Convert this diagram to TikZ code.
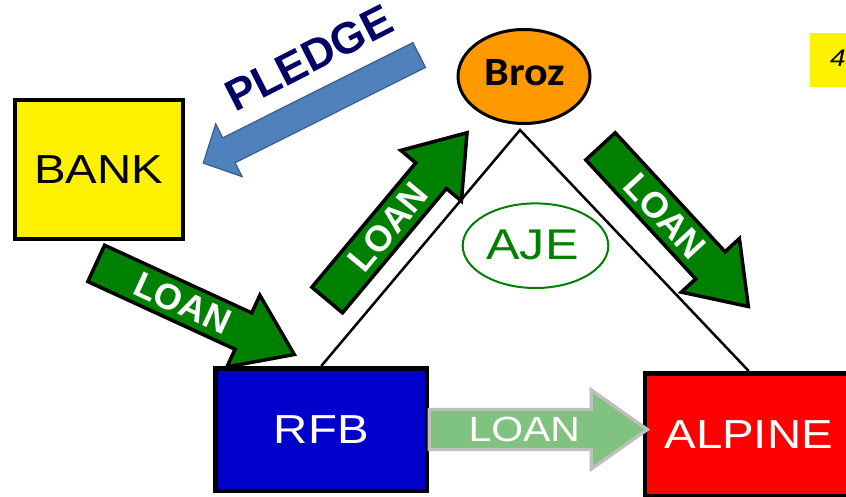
\documentclass[tikz,border=0pt]{standalone}
\usepackage{fontspec}
\setmainfont{Liberation Sans}
\newfontfamily\carlito{Carlito}
\usepackage{graphicx}
\usetikzlibrary{shapes.geometric}
\definecolor{rfbblue}{RGB}{0,0,204}
\definecolor{brozorange}{RGB}{255,153,0}
\definecolor{loangreen}{RGB}{0,128,0}
\definecolor{lightloan}{RGB}{128,194,128}
\definecolor{loangrey}{RGB}{191,191,191}
\definecolor{pledgefill}{RGB}{79,129,189}
\definecolor{pledgeedge}{RGB}{56,93,138}
\definecolor{pledgenavy}{RGB}{0,0,102}
\definecolor{ajegreen}{RGB}{0,128,0}
\newcommand\widetxt[1]{\scalebox{1.17}[1]{#1}}
% block arrow: #1 arrow style, #2 text style, #3 tail, #4 angle, #5 text node name, #6 text
\newcommand\AL{218}\newcommand\AW{20}\newcommand\AH{39.5}\newcommand\AK{56}
\newcommand\blockarrow[6]{%
  \begin{scope}[shift={(#3)},rotate=#4]
    \draw[#1] (0,\AW) -- ({\AL-\AK},\AW) -- ({\AL-\AK},\AH) -- (\AL,0)
      -- ({\AL-\AK},-\AH) -- ({\AL-\AK},-\AW) -- (0,-\AW) -- cycle;
    \node[#2,transform shape] (#5) at (95,0) {#6};
  \end{scope}}
\begin{document}
\begin{tikzpicture}[x=1pt,y=1pt,
  box/.style={draw=black, rectangle, inner sep=0pt},
  loanarrow/.style={fill=loangreen, draw=black, line width=3.5pt},
  lightarrow/.style={fill=lightloan, draw=loangrey, line width=3.3pt},
  loantext/.style={text=white, font=\bfseries\fontsize{36}{42}\selectfont, inner sep=0pt},
  lighttext/.style={text=white, font=\fontsize{35}{42}\selectfont, inner sep=0pt},
  link/.style={draw=black, line width=2.5pt}]
\useasboundingbox (0,0) rectangle (846,496);
\clip (0,0) rectangle (846,496);

% top-right yellow tag
\fill[yellow] (810,408.7) rectangle (850,462.7);
\node[anchor=base west, inner sep=0pt, font=\itshape\fontsize{24}{28}\selectfont] (four) at (830,429.3) {\widetxt{4}};

% boxes
\node[box, line width=4pt, fill=yellow, minimum width=168.3pt, minimum height=139pt,
      font=\fontsize{40.5}{48}\selectfont] (bank) at (98.85,326.5) {\widetxt{BANK}};
\node[box, line width=4.5pt, fill=rfbblue, text=white, minimum width=211.5pt, minimum height=122.5pt,
      font=\fontsize{40.5}{48}\selectfont] (rfb) at (321.3,66.5) {\widetxt{RFB}};
\node[box, line width=4.5pt, fill=red, text=white, minimum width=207.5pt, minimum height=122.9pt,
      font=\fontsize{40.5}{48}\selectfont] (alpine) at (748.7,61.3) {\widetxt{ALPINE}};

% ownership lines
\coordinate (apex) at (520,366);
\draw[link] (rfb.north) -- (apex) -- (alpine.north);

% Broz
\node[ellipse, draw=black, line width=3pt, fill=brozorange, minimum width=132pt, minimum height=94pt,
      inner sep=0pt] (broz) at (524,419.5) {};
\node[inner sep=0pt, font=\carlito\bfseries\fontsize{40}{46}\selectfont] (broztxt) at (525,423) {\scalebox{1.1}[1]{Broz}};

% AJE
\node[ellipse, draw=ajegreen, line width=2pt, minimum width=145.6pt, minimum height=84.6pt,
      inner sep=0pt] (aje) at (535.5,250.3) {};
\node[inner sep=0pt, text=ajegreen, font=\fontsize{43}{50}\selectfont] (ajetxt) at (532.5,251) {\widetxt{AJE}};

% LOAN arrows
\blockarrow{loanarrow}{loantext}{96.2,232.6}{-24.7}{loanA}{LOAN}
\blockarrow{loanarrow}{loantext}{327.2,196}{50.1}{loanB}{LOAN}
\blockarrow{loanarrow}{loantext}{600.5,349.7}{-47.3}{loanC}{LOAN}
\blockarrow{lightarrow}{lighttext}{rfb.east}{0}{loanD}{\widetxt{LOAN}}

% PLEDGE arrow
\coordinate (pledgetail) at (419.2,441);
\begin{scope}[shift={(pledgetail)}, rotate=206.6]
  \draw[fill=pledgefill, draw=pledgeedge, line width=1.2pt]
    (0,13.9) -- (212.8,13.9) -- (212.8,29.5) -- (241.5,0) -- (212.8,-29.5) -- (212.8,-13.9) -- (0,-13.9) -- cycle;
\end{scope}
\node[inner sep=0pt, text=pledgenavy, font=\bfseries\fontsize{44}{50}\selectfont, rotate=27] (pledge) at (309,438) {PLEDGE};
\end{tikzpicture}
\end{document}
